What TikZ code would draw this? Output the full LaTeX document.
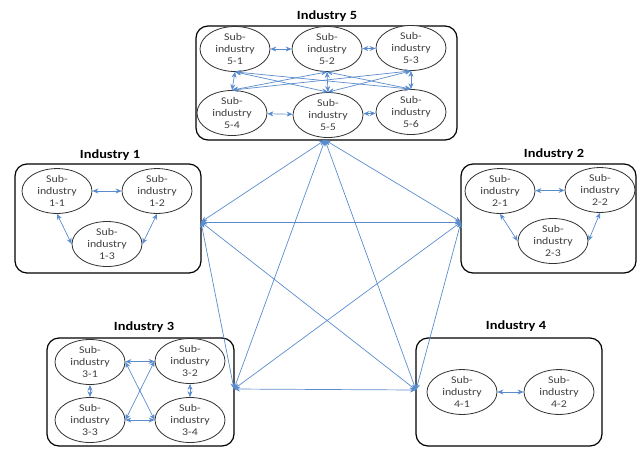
\documentclass[tikz,border=0pt]{standalone}
\usepackage{fontspec}
\setmainfont{Carlito}[FakeStretch=1.15]
\usetikzlibrary{shapes.geometric,arrows.meta}
\definecolor{linkblue}{RGB}{90,140,205}
\begin{document}
\begin{tikzpicture}[x=1pt,y=-1pt,
  indbox/.style={draw=black,line width=1.2pt,rounded corners=12pt},
  title/.style={font=\fontsize{12.5}{14}\selectfont\bfseries,text=black},
  sub/.style={ellipse,draw=black!80,line width=0.8pt,fill=white,
    minimum width=70pt,minimum height=39pt,inner sep=0pt,align=center,
    text=black!75,font=\fontsize{10.3}{12.3}\selectfont},
  biarrow/.style={draw=linkblue,line width=0.7pt,
    {Stealth[length=6pt,width=5pt]}-{Stealth[length=6pt,width=5pt]}}]
\useasboundingbox (0,0) rectangle (640,448);

% industry boxes
\draw[indbox] (196,26) rectangle (457,140);
\draw[indbox] (15,164) rectangle (201,273);
\draw[indbox] (461,164) rectangle (636,273);
\draw[indbox] (47,338) rectangle (234,446);
\draw[indbox] (416,338) rectangle (602,446);

% titles
\node[title] (t5) at (327,16) {Industry 5};
\node[title] (t1) at (110,155) {Industry 1};
\node[title] (t2) at (554,154) {Industry 2};
\node[title] (t3) at (144,327) {Industry 3};
\node[title] (t4) at (516,326) {Industry 4};

% connection points on boxes
\coordinate (p5) at (325,140);
\coordinate (p1) at (201,222);
\coordinate (p2) at (461,222);
\coordinate (p3) at (234,389);
\coordinate (p4) at (416,390);

% inter-industry links
\draw[biarrow] (p5) -- (p1);
\draw[biarrow] (p5) -- (p2);
\draw[biarrow] (p5) -- (p3);
\draw[biarrow] (p5) -- (p4);
\draw[biarrow] (p1) -- (p2);
\draw[biarrow] (p1) -- (p3);
\draw[biarrow] (p1) -- (p4);
\draw[biarrow] (p2) -- (p3);
\draw[biarrow] (p2) -- (p4);
\draw[biarrow] (p3) -- (p4);

% Industry 5 sub-industries
\node[sub] (e51) at (235,49) {Sub-\\industry\\5-1};
\node[sub] (e52) at (327,49) {Sub-\\industry\\5-2};
\node[sub] (e53) at (411,48) {Sub-\\industry\\5-3};
\node[sub] (e54) at (232,113) {Sub-\\industry\\5-4};
\node[sub] (e55) at (328,115) {Sub-\\industry\\5-5};
\node[sub] (e56) at (411,112) {Sub-\\industry\\5-6};
\draw[biarrow] (e51) -- (e52);
\draw[biarrow] (e52) -- (e53);
\draw[biarrow] (e54) -- (e55);
\draw[biarrow] (e55) -- (e56);
\draw[biarrow] (e51.south) -- (e54.north);
\draw[biarrow] (e51.south) -- (e55.north);
\draw[biarrow] (e51.south) -- (e56.north);
\draw[biarrow] (e52.south) -- (e54.north);
\draw[biarrow] (e52.south) -- (e55.north);
\draw[biarrow] (e52.south) -- (e56.north);
\draw[biarrow] (e53.south) -- (e54.north);
\draw[biarrow] (e53.south) -- (e55.north);
\draw[biarrow] (e53.south) -- (e56.north);

% Industry 1
\node[sub] (e11) at (57,191) {Sub-\\industry\\1-1};
\node[sub] (e12) at (157,191) {Sub-\\industry\\1-2};
\node[sub] (e13) at (107,244) {Sub-\\industry\\1-3};
\draw[biarrow] (e11) -- (e12);
\draw[biarrow] (e11.south) -- (e13.west);
\draw[biarrow] (e12.south) -- (e13.east);

% Industry 2
\node[sub] (e21) at (500,191) {Sub-\\industry\\2-1};
\node[sub] (e22) at (600,190) {Sub-\\industry\\2-2};
\node[sub] (e23) at (553,241) {Sub-\\industry\\2-3};
\draw[biarrow] (e21) -- (e22);
\draw[biarrow] (e21.south) -- (e23.west);
\draw[biarrow] (e22.south) -- (e23.east);

% Industry 3
\node[sub] (e31) at (90,362) {Sub-\\industry\\3-1};
\node[sub] (e32) at (190,361) {Sub-\\industry\\3-2};
\node[sub] (e33) at (90,420) {Sub-\\industry\\3-3};
\node[sub] (e34) at (190,420) {Sub-\\industry\\3-4};
\draw[biarrow] (e31) -- (e32);
\draw[biarrow] (e33) -- (e34);
\draw[biarrow] (e31) -- (e33);
\draw[biarrow] (e32) -- (e34);
\draw[biarrow] (e31.east) -- (e34.west);
\draw[biarrow] (e33.east) -- (e32.west);

% Industry 4
\node[sub] (e41) at (462,392) {Sub-\\industry\\4-1};
\node[sub] (e42) at (559,392) {Sub-\\industry\\4-2};
\draw[biarrow] (e41) -- (e42);
\end{tikzpicture}
\end{document}
